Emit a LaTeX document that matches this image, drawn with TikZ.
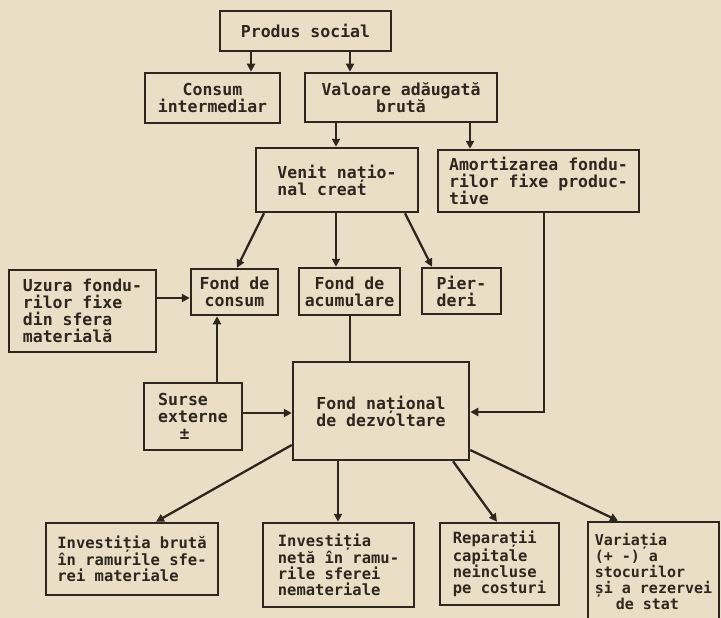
\documentclass[tikz,border=0pt]{standalone}
\usepackage{fontspec}
\setmainfont{DejaVu Sans Mono}
\usetikzlibrary{arrows.meta,calc}
\definecolor{paper}{HTML}{EADFC6}
\definecolor{ink}{HTML}{2E261F}
\tikzset{
  box/.style={draw=ink, line width=2.5pt, text=ink, inner sep=0pt,
    font=\bfseries\fontsize{16.5}{17}\selectfont, align=left},
  small/.style={font=\bfseries\fontsize{15.5}{16}\selectfont},
  arr/.style={draw=ink, line width=2.3pt, -{Triangle[length=8pt,width=8pt]}},
  ln/.style={draw=ink, line width=2.3pt}
}
\begin{document}
\begin{tikzpicture}[x=1pt,y=-1pt]
\fill[paper] (0,0) rectangle (721,618);
\useasboundingbox (0,0) rectangle (721,618);
% boxes
\node[box, align=center, minimum width=171pt, minimum height=40pt] (ps) at (305.5,31) {Produs social};
\node[box, align=center, minimum width=135pt, minimum height=50pt] (ci) at (212.5,98) {Consum\\intermediar};
\node[box, align=center, minimum width=192pt, minimum height=49pt] (va) at (401,97.5) {Valoare adăugată\\brută};
\node[box, minimum width=162pt, minimum height=64pt] (vn) at (337,180) {Venit națio-\\nal creat};
\node[box, minimum width=201pt, minimum height=62pt] (am) at (538.5,181) {Amortizarea fondu-\\rilor fixe produc-\\tive};
\node[box, minimum width=147pt, minimum height=82pt] (uz) at (82.5,311) {Uzura fondu-\\rilor fixe\\din sfera\\materială};
\node[box, align=center, minimum width=87pt, minimum height=46pt] (fc) at (234.5,292) {Fond de\\consum};
\node[box, align=center, minimum width=101pt, minimum height=47pt] (fa) at (349.5,291.5) {Fond de\\acumulare};
\node[box, minimum width=79pt, minimum height=46pt] (pi) at (461.5,291) {Pier-\\deri};
\node[box, align=center, minimum width=176pt, minimum height=98pt] (fn) at (381,411) {Fond național\\de dezvoltare};
\node[box, minimum width=98pt, minimum height=67pt] (se) at (193,416.5) {Surse\\externe\\\hspace*{1.3em}±};
\node[box, small, minimum width=172pt, minimum height=72pt] (ib) at (132,559) {Investiția brută\\în ramurile sfe-\\rei materiale};
\node[box, small, minimum width=151pt, minimum height=84pt] (in) at (338.5,565) {Investiția\\netă în ramu-\\rile sferei\\nemateriale};
\node[box, small, minimum width=119pt, minimum height=82pt] (rc) at (499.5,564) {Reparații\\capitale\\neincluse\\pe costuri};
\node[box, font=\bfseries\fontsize{15}{16}\selectfont, minimum width=131pt, minimum height=100pt] (vs) at (653.5,572) {Variația\\(+ -) a\\stocurilor\\și a rezervei\\\hspace*{1.4em}de stat};
% connectors
\draw[arr] (251,0 |- ps.south) -- (251,0 |- ci.north);
\draw[arr] (350,0 |- ps.south) -- (350,0 |- va.north);
\draw[arr] (336,0 |- va.south) -- (336,0 |- vn.north);
\draw[arr] (470,0 |- va.south) -- (470,0 |- am.north);
\draw[arr] (264,0 |- vn.south) -- (237,0 |- fc.north);
\draw[arr] (336,0 |- vn.south) -- (336,0 |- fa.north);
\draw[arr] (405,0 |- vn.south) -- (432,0 |- pi.north);
\draw[arr] (uz.east |- 0,298) -- (fc.west |- 0,298);
\draw[arr] (217,0 |- se.north) -- (217,0 |- fc.south);
\draw[arr] (se.east |- 0,413) -- (fn.west |- 0,413);
\draw[ln] (350,0 |- fa.south) -- (350,0 |- fn.north);
\draw[arr] (544,0 |- am.south) -- (544,412) -- (fn.east |- 0,412);
\draw[arr] (fn.west |- 0,445) -- (156,0 |- ib.north);
\draw[arr] (338,0 |- fn.south) -- (338,0 |- in.north);
\draw[arr] (453,0 |- fn.south) -- (497,0 |- rc.north);
\draw[arr] (fn.east |- 0,450) -- (618,0 |- vs.north);
\end{tikzpicture}
\end{document}
